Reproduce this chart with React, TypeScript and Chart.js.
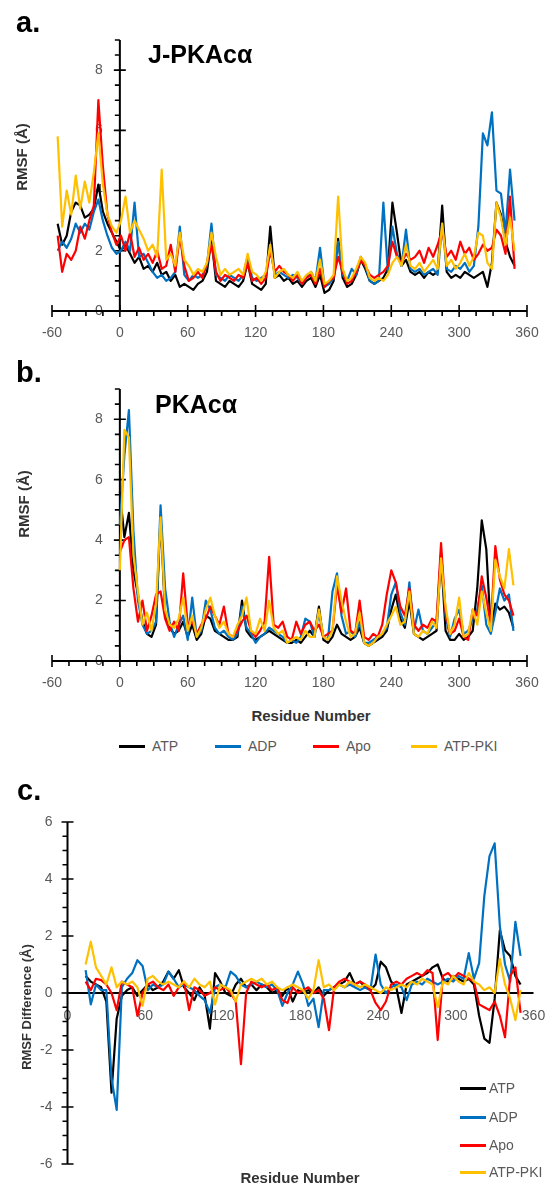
import React, { useEffect, useRef } from 'react';
import { Chart, registerables } from 'chart.js';

Chart.register(...registerables);

const seriesNames = ['ATP', 'ADP', 'Apo', 'ATP-PKI'];
const seriesColors = ['#000000', '#0070C0', '#FF0000', '#FFC000'];

// ---------- Panel a: J-PKAcα ----------
const residuesA = [-55,-51,-47,-43,-39,-35,-31,-27,-23,-19,-15,-11,-7,-3,1,5,9,13,17,21,25,29,33,37,41,45,49,53,57,61,65,69,73,77,81,85,89,93,97,101,105,109,113,117,121,125,129,133,137,141,145,149,153,157,161,165,169,173,177,181,185,189,193,197,201,205,209,213,217,221,225,229,233,237,241,245,249,253,257,261,265,269,273,277,281,285,289,293,297,301,305,309,313,317,321,325,329,333,337,341,345,349];
const atpA = [2.9,2.2,2.5,3.3,3.6,3.5,3.1,3.2,3.4,4.2,3.3,2.9,2.6,2.3,2.0,2.2,1.9,1.6,1.8,1.4,1.5,1.3,1.6,1.2,1.3,1.0,1.2,0.8,0.9,0.8,0.7,0.9,1.0,1.3,2.4,1.0,0.9,0.8,1.0,0.9,0.8,1.0,1.6,0.9,0.8,0.7,0.9,2.8,1.1,1.2,1.0,1.1,0.9,1.0,0.8,1.0,1.1,0.8,1.2,0.6,0.7,1.0,2.4,1.1,0.8,0.9,1.2,1.7,1.4,1.0,0.9,1.0,1.1,1.4,3.6,2.6,1.5,1.7,1.3,1.2,1.3,1.1,1.3,1.2,1.3,3.5,1.3,1.1,1.2,1.1,1.3,1.2,1.1,1.2,1.3,0.8,1.6,3.6,3.2,2.3,1.8,1.5];
const adpA = [2.0,2.3,2.1,2.4,2.9,2.6,2.9,2.7,3.3,3.7,3.0,2.5,2.1,1.9,2.0,2.3,2.0,3.6,1.8,1.9,1.6,1.3,1.1,1.2,1.0,1.1,1.3,2.8,1.2,1.0,1.2,1.1,1.2,1.5,2.9,1.2,1.1,1.0,1.2,1.1,1.0,1.2,1.8,1.1,1.0,1.1,1.2,2.1,1.2,1.3,1.2,1.1,1.2,1.1,0.9,1.1,1.3,1.0,2.1,0.8,0.9,1.1,2.3,1.2,1.0,1.4,1.2,1.8,1.5,1.0,0.9,1.0,3.6,1.3,2.8,1.9,1.5,2.7,1.4,1.3,1.4,1.2,1.3,1.4,1.2,2.9,1.4,1.3,1.5,1.4,1.6,1.3,1.5,2.8,5.9,5.5,6.6,4.0,3.9,2.6,4.7,3.0];
const apoA = [2.5,1.3,1.9,1.7,2.0,2.8,2.4,3.0,3.5,7.0,4.8,3.2,2.6,2.2,2.5,2.0,2.6,1.8,2.1,1.7,1.9,1.6,2.0,1.4,1.5,2.2,1.3,2.5,1.5,1.0,1.1,1.3,1.1,1.6,2.2,1.3,1.0,1.2,1.1,1.0,1.2,1.1,1.6,1.0,1.1,0.9,1.1,2.0,1.3,1.5,1.3,1.2,1.0,1.2,0.9,1.1,1.2,0.9,1.4,0.8,1.0,1.1,1.8,1.3,0.9,1.0,1.3,1.7,1.5,1.2,1.1,1.2,1.3,1.5,2.3,1.8,1.6,1.9,1.7,1.8,2.0,1.6,2.1,1.8,2.2,2.7,1.8,2.0,1.7,2.3,1.9,2.1,1.7,1.9,2.2,2.0,2.1,2.7,2.5,1.9,3.8,1.4];
const pkiA = [5.8,2.8,4.0,3.2,4.5,3.4,4.3,3.6,4.6,5.9,4.2,3.2,2.8,2.6,3.0,3.8,2.6,3.0,2.7,2.4,2.0,2.2,1.8,4.7,1.7,1.9,1.5,2.6,1.7,1.5,1.2,1.4,1.3,1.6,2.6,1.8,1.2,1.4,1.2,1.3,1.4,1.2,1.9,1.3,1.2,1.0,1.3,2.2,1.1,1.3,1.4,1.2,1.1,1.3,1.0,1.2,1.3,1.0,1.7,0.9,1.0,1.2,3.8,1.4,1.0,1.1,1.4,1.8,1.6,1.1,1.0,1.1,1.0,1.2,1.6,1.8,1.5,2.2,1.5,1.4,1.6,1.3,1.5,1.7,1.4,2.9,1.5,1.7,1.4,1.6,1.9,1.5,1.8,2.6,2.5,1.6,1.4,3.6,3.1,2.2,3.1,2.0];

// ---------- Panel b: PKAcα ----------
const residuesB = [0,4,8,12,16,20,24,28,32,36,40,44,48,52,56,60,64,68,72,76,80,84,88,92,96,100,104,108,112,116,120,124,128,132,136,140,144,148,152,156,160,164,168,172,176,180,184,188,192,196,200,204,208,212,216,220,224,228,232,236,240,244,248,252,256,260,264,268,272,276,280,284,288,292,296,300,304,308,312,316,320,324,328,332,336,340,344,348];
const atpB = [5.6,4.1,4.9,3.0,2.2,1.3,0.9,0.8,1.2,4.8,1.5,1.1,0.9,1.0,1.3,0.8,1.2,0.7,0.9,1.5,1.4,1.0,0.9,0.8,0.7,0.7,0.8,2.0,1.0,0.8,0.7,0.8,0.9,1.0,0.9,0.8,0.7,0.6,0.6,0.7,0.6,0.8,1.0,0.8,1.8,0.7,0.6,0.8,1.2,0.9,0.8,0.7,0.8,1.1,0.6,0.5,0.6,0.7,0.8,1.0,1.7,2.2,1.4,1.1,2.0,0.9,0.8,0.7,0.8,0.9,1.0,3.5,1.0,0.7,0.7,0.9,0.7,0.8,1.0,2.4,4.65,3.7,1.0,1.9,1.7,1.8,1.6,1.1];
const adpB = [4.5,6.8,8.3,4.3,2.0,1.2,0.9,1.0,1.3,5.15,2.4,1.3,0.8,1.2,1.5,0.7,2.1,0.8,1.0,2.0,1.7,1.1,0.9,1.0,0.8,0.7,0.9,1.8,1.1,0.9,0.6,0.8,0.9,1.1,1.0,0.9,0.8,0.6,0.7,0.6,0.8,1.4,1.3,0.8,1.6,0.8,0.7,2.3,2.9,1.5,0.9,1.0,0.8,1.3,0.6,0.6,0.7,0.8,0.9,1.1,2.2,2.6,1.6,1.2,2.6,1.0,1.7,1.0,0.9,1.1,1.3,3.6,1.5,0.8,1.4,1.7,0.9,1.0,1.4,1.7,2.5,1.2,0.9,1.6,2.4,2.0,2.2,1.0];
const apoB = [3.6,4.0,4.1,2.4,1.3,2.0,1.0,1.5,2.2,2.3,1.4,1.0,1.3,1.0,2.9,1.2,1.3,0.9,1.2,1.4,1.8,1.5,1.2,1.8,0.9,0.8,1.0,1.3,1.5,1.0,0.8,1.0,1.3,3.45,1.2,1.1,1.3,0.8,0.7,1.3,0.9,1.2,1.3,1.0,1.2,0.8,0.9,1.0,2.5,1.6,2.4,1.0,0.9,2.0,0.8,0.7,0.9,0.8,1.2,2.2,3.0,2.6,1.8,1.5,2.4,1.2,1.0,1.2,1.1,1.4,1.3,3.9,1.6,0.9,1.0,1.4,0.8,0.7,1.7,1.5,2.8,2.1,1.2,3.8,2.7,2.2,2.0,1.5];
const pkiB = [3.0,7.65,7.4,3.5,2.3,1.2,1.6,1.0,1.9,4.75,1.7,1.2,1.1,1.4,2.1,1.0,1.5,0.8,1.1,1.7,2.1,1.5,1.1,1.3,0.9,0.8,1.2,1.5,2.1,1.0,0.9,1.4,1.0,2.0,1.1,0.9,1.0,0.6,0.7,0.8,0.7,1.0,0.8,0.8,1.7,0.8,0.7,1.0,2.8,2.0,1.3,0.8,0.9,1.6,0.6,0.5,0.6,0.8,0.9,1.2,1.5,1.8,1.2,1.3,2.3,0.9,0.8,1.0,0.9,1.3,1.1,3.4,1.8,0.9,1.2,2.1,0.8,0.9,1.7,1.2,2.3,1.6,1.0,3.35,2.8,2.4,3.7,2.5];

// ---------- Panel c: RMSF difference ----------
const residuesC = [14,18,22,26,30,34,38,42,46,50,54,58,62,66,70,74,78,82,86,90,94,98,102,106,110,114,118,122,126,130,134,138,142,146,150,154,158,162,166,170,174,178,182,186,190,194,198,202,206,210,214,218,222,226,230,234,238,242,246,250,254,258,262,266,270,274,278,282,286,290,294,298,302,306,310,314,318,322,326,330,334,338,342,346,350];
const atpC = [0.6,0.4,0.3,0.2,-0.3,-3.5,-0.9,-0.1,0.1,0.2,-0.1,0.1,0.3,0.1,0.2,0.4,0.75,0.5,0.8,0.2,0.0,-0.25,0.2,-0.1,-1.25,0.7,0.4,0.0,-0.1,0.3,0.5,0.2,0.3,0.1,0.3,0.2,0.0,0.1,-0.1,0.2,-0.3,0.1,0.0,0.1,0.0,0.2,-0.1,0.1,0.2,0.3,0.4,0.7,0.3,0.4,0.2,0.1,0.3,1.1,0.9,0.4,0.2,-0.7,0.3,0.4,0.5,0.6,0.7,0.9,1.0,0.5,0.4,0.6,0.5,0.4,0.5,0.3,-0.8,-1.6,-1.75,-0.2,2.2,1.5,1.3,0.6,0.3];
const adpC = [0.8,-0.4,0.3,0.1,0.1,-3.0,-4.1,0.2,0.5,0.7,1.15,0.95,0.1,0.3,0.2,0.3,0.75,0.5,0.2,0.3,0.2,0.1,-0.1,-0.25,-0.7,0.2,0.3,0.2,0.75,0.6,0.3,0.2,0.3,0.4,0.3,0.2,0.3,0.1,-0.45,0.0,0.3,0.75,0.3,-0.45,-0.2,-1.2,0.1,0.1,0.2,0.3,0.2,0.3,0.2,0.1,0.2,0.1,1.35,0.3,0.0,0.2,0.3,0.2,-0.25,0.3,0.4,0.3,0.5,0.4,0.3,0.4,0.5,0.4,0.6,0.5,1.4,0.5,1.05,3.4,4.8,5.25,2.35,1.0,0.4,2.5,1.3];
const apoC = [0.4,0.1,0.5,0.45,0.3,0.0,-0.6,0.4,0.3,0.2,-0.8,0.0,0.3,0.4,0.2,0.1,0.3,-0.1,0.2,0.4,-0.6,0.2,0.1,-0.1,0.0,0.2,0.1,0.2,0.0,-0.3,-2.5,0.0,0.4,0.3,0.2,0.3,0.1,0.2,-0.25,-0.35,0.2,0.0,0.1,0.2,0.0,0.1,-0.2,-1.3,0.2,0.4,0.5,0.4,0.3,0.4,0.3,0.1,-0.35,-0.6,-0.3,0.3,0.4,0.3,0.5,0.6,0.7,0.6,0.8,0.7,-1.65,0.6,0.7,0.5,0.7,0.6,0.5,0.4,-0.4,-0.5,-0.6,-0.3,-0.8,-1.55,0.6,0.9,-0.7];
const pkiC = [1.0,1.8,0.9,0.6,0.3,0.9,0.2,0.4,0.3,0.4,0.2,-0.45,0.5,0.6,0.4,0.3,0.4,0.3,0.2,0.4,0.2,0.5,0.3,0.2,0.4,-0.4,0.3,0.2,0.1,-0.3,0.3,0.4,0.5,0.4,0.5,0.3,0.4,0.2,0.1,0.2,0.3,0.2,0.1,-0.2,0.1,1.15,0.2,0.3,0.1,0.3,0.2,0.4,0.3,0.2,0.3,0.2,0.1,0.0,0.2,0.1,0.2,0.3,0.2,0.4,0.3,0.5,0.4,0.3,-0.5,0.4,0.3,0.6,0.4,0.3,0.7,0.4,0.3,0.1,0.2,0.0,1.2,0.3,-0.2,-0.95,0.1];

// ---------- Tick labels ----------
const xTicksAB = [-60, 0, 60, 120, 180, 240, 300, 360];
const yTicksAB = [0, 2, 4, 6, 8];
const xTicksC = [0, 60, 120, 180, 240, 300, 360];
const yTicksC = [-6, -4, -2, 0, 2, 4, 6];

type AxisCfg = {
  xMin: number; xMax: number; yMin: number; yMax: number;
  xTicks: number[]; yTicks: number[];
  xTickMarks: boolean; xMinorStep: number; yMinorStep: number;
  xLabelOffset: number; yLabelGap: number;
};

const cfgAB: AxisCfg = {
  xMin: -60, xMax: 360, yMin: 0, yMax: 9,
  xTicks: xTicksAB, yTicks: yTicksAB,
  xTickMarks: true, xMinorStep: 15, yMinorStep: 0.5,
  xLabelOffset: 22, yLabelGap: 17,
};
const cfgC: AxisCfg = {
  xMin: 0, xMax: 360, yMin: -6, yMax: 6,
  xTicks: xTicksC, yTicks: yTicksC,
  xTickMarks: false, xMinorStep: 0, yMinorStep: 0.5,
  xLabelOffset: 23, yLabelGap: 15,
};

const TICK_FONT = '14px "Liberation Sans", Arial, sans-serif';

function makeAxesPlugin(cfg: AxisCfg) {
  return {
    id: 'panelAxes',
    beforeDatasetsDraw(chart: any) {
      const ctx = chart.ctx as CanvasRenderingContext2D;
      const xs = chart.scales.x;
      const ys = chart.scales.y;
      const ca = chart.chartArea;
      const ax = xs.getPixelForValue(0);
      const ay = ys.getPixelForValue(0);
      ctx.save();
      // labels
      ctx.font = TICK_FONT;
      ctx.fillStyle = '#595959';
      ctx.textAlign = 'center';
      ctx.textBaseline = 'middle';
      for (const v of cfg.xTicks) {
        ctx.fillText(String(v), xs.getPixelForValue(v), ay + cfg.xLabelOffset);
      }
      ctx.textAlign = 'right';
      for (const v of cfg.yTicks) {
        ctx.fillText(String(v), ax - cfg.yLabelGap, ys.getPixelForValue(v));
      }
      // axis lines
      ctx.strokeStyle = '#000';
      ctx.lineWidth = 2;
      ctx.beginPath();
      ctx.moveTo(ca.left, ay);
      ctx.lineTo(ca.right, ay);
      ctx.moveTo(ax, ca.top);
      ctx.lineTo(ax, ca.bottom);
      ctx.stroke();
      // tick marks
      ctx.lineWidth = 1.6;
      ctx.beginPath();
      if (cfg.xTickMarks) {
        for (const v of cfg.xTicks) {
          const px = xs.getPixelForValue(v);
          ctx.moveTo(px, ay - 6);
          ctx.lineTo(px, ay + 6);
        }
        if (cfg.xMinorStep > 0) {
          for (let v = cfg.xMin; v <= cfg.xMax; v += cfg.xMinorStep) {
            if (cfg.xTicks.indexOf(v) >= 0) continue;
            const px = xs.getPixelForValue(v);
            ctx.moveTo(px, ay);
            ctx.lineTo(px, ay + 5);
          }
        }
      }
      for (const v of cfg.yTicks) {
        const py = ys.getPixelForValue(v);
        ctx.moveTo(ax - 6, py);
        ctx.lineTo(ax + 6, py);
      }
      for (let v = cfg.yMin; v <= cfg.yMax + 1e-9; v += cfg.yMinorStep) {
        if (cfg.yTicks.indexOf(v) >= 0) continue;
        const py = ys.getPixelForValue(v);
        ctx.moveTo(ax - 5, py);
        ctx.lineTo(ax, py);
      }
      ctx.stroke();
      ctx.restore();
    },
  };
}

type PanelProps = {
  residues: number[];
  series: number[][];
  cfg: AxisCfg;
  top: number;
  height: number;
  padding: { left: number; right: number; top: number; bottom: number };
};

function RmsfPanel({ residues, series, cfg, top, height, padding }: PanelProps) {
  const ref = useRef<HTMLCanvasElement>(null);
  useEffect(() => {
    const canvas = ref.current;
    if (!canvas) return;
    const chart = new Chart(canvas, {
      type: 'line',
      data: {
        datasets: series.map((vals, i) => ({
          label: seriesNames[i],
          data: residues.map((r, j) => ({ x: r, y: vals[j] })),
          borderColor: seriesColors[i],
          backgroundColor: seriesColors[i],
          borderWidth: 2.2,
          pointRadius: 0,
          tension: 0,
          fill: false,
          borderJoinStyle: 'round',
          order: series.length - 1 - i,
        })),
      },
      options: {
        responsive: false,
        animation: false,
        events: [],
        layout: { padding },
        scales: {
          x: { type: 'linear', min: cfg.xMin, max: cfg.xMax, display: false },
          y: { type: 'linear', min: cfg.yMin, max: cfg.yMax, display: false },
        },
        plugins: { legend: { display: false }, tooltip: { enabled: false } },
      },
      plugins: [makeAxesPlugin(cfg)],
    } as any);
    return () => chart.destroy();
  }, []);
  return (
    <canvas
      ref={ref}
      width={548}
      height={height}
      style={{ position: 'absolute', left: 0, top, width: 548, height, display: 'block' }}
    />
  );
}

const FONT = '"Liberation Sans", Arial, sans-serif';

function Txt({ x, y, size, bold, color, children, anchor }: any) {
  return (
    <div
      style={{
        position: 'absolute',
        left: x,
        top: y,
        fontFamily: FONT,
        fontSize: size,
        fontWeight: bold ? 'bold' : 'normal',
        color: color || '#000',
        lineHeight: 1,
        whiteSpace: 'nowrap',
        transform: anchor === 'center' ? 'translate(-50%, -50%)' : anchor === 'vcenter' ? 'translateY(-50%)' : undefined,
      }}
    >
      {children}
    </div>
  );
}

function YTitle({ x, y, size, children }: any) {
  return (
    <div
      style={{
        position: 'absolute',
        left: x,
        top: y,
        fontFamily: FONT,
        fontSize: size,
        fontWeight: 'bold',
        color: '#333',
        lineHeight: 1,
        whiteSpace: 'nowrap',
        transform: 'translate(-50%, -50%) rotate(-90deg)',
      }}
    >
      {children}
    </div>
  );
}

function LegendItem({ x, y, color, label }: any) {
  return (
    <>
      <div style={{ position: 'absolute', left: x, top: y - 1.5, width: 26, height: 3, background: color }} />
      <Txt x={x + 33} y={y} size={14} color="#595959" anchor="vcenter">{label}</Txt>
    </>
  );
}

export default function App() {
  const legendBX = [119, 215, 313, 411];
  const legendCY = [1088, 1117, 1145, 1172];
  return (
    <div style={{ position: 'absolute', left: 0, top: 0, width: 548, height: 1184, background: '#fff', overflow: 'hidden' }}>
      <RmsfPanel
        residues={residuesA}
        series={[atpA, adpA, apoA, pkiA]}
        cfg={cfgAB}
        top={0}
        height={345}
        padding={{ left: 52, right: 21, top: 40, bottom: 34 }}
      />
      <RmsfPanel
        residues={residuesB}
        series={[atpB, adpB, apoB, pkiB]}
        cfg={cfgAB}
        top={345}
        height={345}
        padding={{ left: 52, right: 21, top: 44, bottom: 29 }}
      />
      <RmsfPanel
        residues={residuesC}
        series={[atpC, adpC, apoC, pkiC]}
        cfg={cfgC}
        top={800}
        height={384}
        padding={{ left: 67.5, right: 14.5, top: 22, bottom: 20 }}
      />

      <Txt x={16} y={7.5} size={29} bold>a.</Txt>
      <Txt x={148} y={42} size={25} bold>J-PKAcα</Txt>
      <YTitle x={21} y={157} size={15}>RMSF (Å)</YTitle>

      <Txt x={16} y={357.5} size={29} bold>b.</Txt>
      <Txt x={155} y={392} size={25} bold>PKAcα</Txt>
      <YTitle x={23} y={504} size={15}>RMSF (Å)</YTitle>
      <Txt x={311} y={715} size={15} bold color="#333" anchor="center">Residue Number</Txt>
      {seriesNames.map((n, i) => (
        <LegendItem key={n} x={legendBX[i]} y={746} color={seriesColors[i]} label={n} />
      ))}

      <Txt x={17} y={775.5} size={29} bold>c.</Txt>
      <YTitle x={26} y={1007} size={13}>RMSF Difference (Å)</YTitle>
      <Txt x={300} y={1177} size={15} bold color="#333" anchor="center">Residue Number</Txt>
      {seriesNames.map((n, i) => (
        <React.Fragment key={n}>
          <div style={{ position: 'absolute', left: 460, top: legendCY[i] - 1.5, width: 26, height: 3, background: seriesColors[i] }} />
          <Txt x={489} y={legendCY[i]} size={14} color="#595959" anchor="vcenter">{n}</Txt>
        </React.Fragment>
      ))}
    </div>
  );
}
